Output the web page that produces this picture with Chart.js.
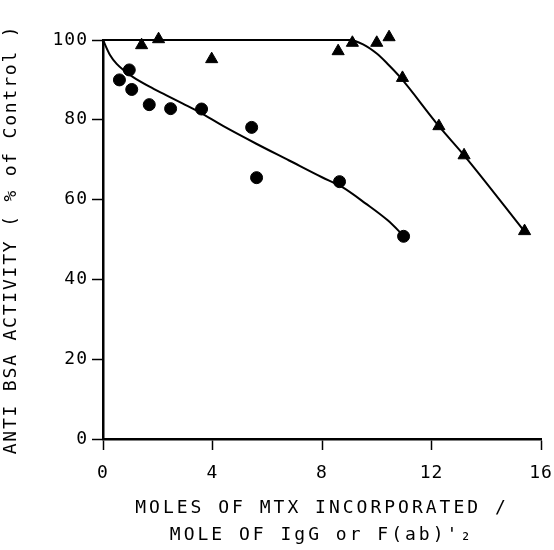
<!DOCTYPE html>
<html>
<head>
<meta charset="utf-8">
<script src="https://cdn.jsdelivr.net/npm/chart.js@4"></script>
<style>
  html, body { margin: 0; padding: 0; background: #fff; }
</style>
</head>
<body>
<canvas id="myChart" width="554" height="550"></canvas>
<script>

// filled circles
var circleX = [0.6, 0.96, 1.05, 1.69, 2.47, 3.6, 5.43, 5.61, 8.64, 10.98];
var circleY = [90.0, 92.5, 87.6, 83.8, 82.8, 82.7, 78.1, 65.5, 64.5, 50.8];

// filled triangles
var triX = [1.41, 2.03, 3.97, 8.59, 9.11, 10.0, 10.45, 10.94, 12.27, 13.19, 15.4];
var triY = [98.7, 100.2, 95.2, 97.2, 99.3, 99.3, 100.7, 90.5, 78.4, 71.1, 52.1];

// the drawn curves
var circleCurveX = [0, 0.25, 0.5, 0.8, 1.1, 1.7, 2.3, 2.9, 3.5, 4.4, 5.6, 6.8, 8.0, 8.7, 9.6, 10.4, 11.0];
var circleCurveY = [100, 96.3, 94.0, 92.2, 90.7, 88.3, 86.2, 84.1, 82.0, 78.4, 74.0, 69.8, 65.6, 63.3, 59.0, 54.8, 50.8];
var triCurveX = [0, 9.0, 9.5, 10.0, 10.4, 10.84, 12.27, 13.19, 15.4];
var triCurveY = [100, 100, 98.9, 96.6, 94.0, 90.8, 78.4, 71.1, 52.0];

var xTicks = [0, 4, 8, 12, 16];
var yTicks = [0, 20, 40, 60, 80, 100];

var xTitle = ['MOLES OF MTX INCORPORATED /', "MOLE OF IgG or F(ab)'\u2082"];
var yTitle = 'ANTI BSA ACTIVITY ( % of Control )';

function pts(xs, ys) {
  var out = [];
  for (var i = 0; i < xs.length; i++) out.push({x: xs[i], y: ys[i]});
  return out;
}

// letter spacing for titles and tick labels (canvas letterSpacing)
var spacingPlugin = {
  id: 'spacing',
  beforeDraw: function(chart) {
    Object.values(chart.scales).forEach(function(s) {
      if (s._spaced) return;
      s._spaced = true;
      var dt = s.drawTitle, dl = s.drawLabels;
      var titleLs = s.id === 'x' ? '3px' : '1.8px';
      s.drawTitle = function() {
        this.ctx.letterSpacing = titleLs;
        dt.apply(this, arguments);
        this.ctx.letterSpacing = '0px';
      };
      s.drawLabels = function() {
        this.ctx.letterSpacing = '1px';
        dl.apply(this, arguments);
        this.ctx.letterSpacing = '0px';
      };
    });
  }
};

var font = 'DejaVu Sans Mono';

var ctx = document.getElementById('myChart').getContext('2d');
var chart = new Chart(ctx, {
  type: 'scatter',
  data: {
    datasets: [{
      data: pts(circleCurveX, circleCurveY),
      showLine: true,
      cubicInterpolationMode: 'monotone',
      borderColor: '#000',
      borderWidth: 2,
      pointRadius: 0,
      clip: false
    }, {
      data: pts(triCurveX, triCurveY),
      showLine: true,
      cubicInterpolationMode: 'monotone',
      borderColor: '#000',
      borderWidth: 2,
      pointRadius: 0,
      clip: false
    }, {
      data: pts(circleX, circleY),
      pointStyle: 'circle',
      pointRadius: 6,
      backgroundColor: '#000',
      borderColor: '#000',
      borderWidth: 1,
      clip: false
    }, {
      data: pts(triX, triY),
      pointStyle: 'triangle',
      pointRadius: 7,
      backgroundColor: '#000',
      borderColor: '#000',
      borderWidth: 1,
      clip: false
    }]
  },
  options: {
    responsive: false,
    animation: false,
    devicePixelRatio: 1,
    layout: { padding: { top: 40, right: 13, left: 0, bottom: 0 } },
    plugins: { legend: { display: false }, tooltip: { enabled: false } },
    scales: {
      x: {
        type: 'linear',
        min: 0,
        max: 16,
        afterFit: function(s) { s.height = 111; s.paddingLeft = 0; s.paddingRight = 0; },
        afterBuildTicks: function(s) { s.ticks = xTicks.map(function(v) { return {value: v}; }); },
        grid: { drawOnChartArea: false, drawTicks: true, tickLength: 11, tickWidth: 1.5, color: '#000' },
        border: { display: true, color: '#000', width: 2.5 },
        ticks: { color: '#000', padding: 13, maxRotation: 0, font: { family: font, size: 18 } },
        title: {
          display: true,
          text: xTitle,
          color: '#000',
          font: { family: font, size: 18, lineHeight: 1.5 },
          padding: { top: 0, bottom: 1.5 }
        }
      },
      y: {
        type: 'linear',
        min: 0,
        max: 100,
        afterFit: function(s) { s.width = 103; s.paddingTop = 0; s.paddingBottom = 0; },
        afterBuildTicks: function(s) { s.ticks = yTicks.map(function(v) { return {value: v}; }); },
        grid: { drawOnChartArea: false, drawTicks: true, tickLength: 11, tickWidth: 1.5, color: '#000' },
        border: { display: true, color: '#000', width: 2.5 },
        ticks: { color: '#000', padding: 4, font: { family: font, size: 18 } },
        title: {
          display: true,
          text: yTitle,
          color: '#000',
          font: { family: font, size: 18, lineHeight: 1.2 },
          padding: { top: 1, bottom: 0 }
        }
      }
    }
  },
  plugins: [spacingPlugin]
});

</script>
</body>
</html>
